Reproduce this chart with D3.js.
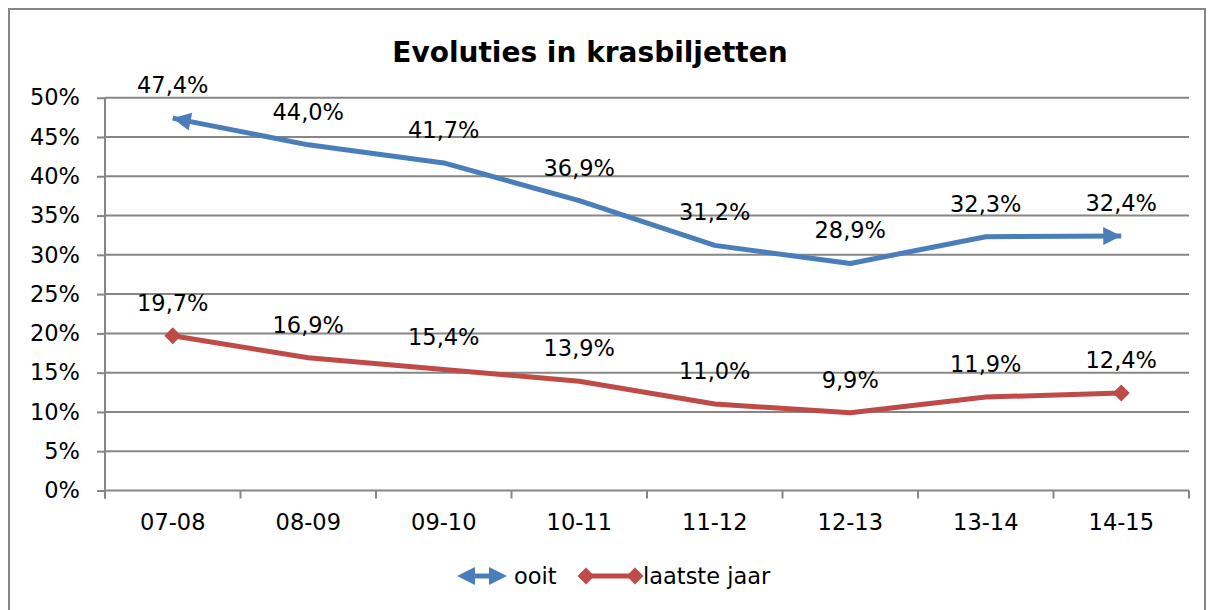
<!DOCTYPE html>
<html><head><meta charset="utf-8">
<script src="https://cdn.jsdelivr.net/npm/d3@7"></script>
<style>body{margin:0;background:#fff}svg text{font-family:"DejaVu Sans",Verdana,sans-serif}</style>
</head><body>
<svg id="c" width="1214" height="610"></svg>
<script>
const categories = ["07-08","08-09","09-10","10-11","11-12","12-13","13-14","14-15"];
const ooit = [47.4,44.0,41.7,36.9,31.2,28.9,32.3,32.4];
const laatsteJaar = [19.7,16.9,15.4,13.9,11.0,9.9,11.9,12.4];
const yTicks = [0,5,10,15,20,25,30,35,40,45,50];
const seriesNames = ["ooit","laatste jaar"];
const title = "Evoluties in krasbiljetten";

const blue = "#4A7EBB", red = "#BE4B48", grid = "#868686";
const FS = 22.5;
const svg = d3.select("#c");
const L = 105, R = 1189, T = 97.7, B = 490.5;

svg.append("rect").attr("x",9).attr("y",9).attr("width",1196).attr("height",640)
  .attr("fill","#fff").attr("stroke",grid).attr("stroke-width",2);

const x = d3.scaleBand().domain(categories).range([L,R]);
const y = d3.scaleLinear().domain([0,50]).range([B,T]);
const cx = i => x(categories[i]) + x.bandwidth()/2;

svg.append("text").attr("x",590).attr("y",62).attr("text-anchor","middle")
  .attr("font-size",28).attr("font-weight","bold").text(title);

// gridlines
svg.append("g").selectAll("line").data(yTicks.filter(d=>d>0)).join("line")
  .attr("x1",L).attr("x2",R).attr("y1",d=>y(d)).attr("y2",d=>y(d))
  .attr("stroke",grid).attr("stroke-width",2);

// y axis
const ya = svg.append("g").attr("transform",`translate(${L},0)`)
  .call(d3.axisLeft(y).tickValues(yTicks).tickFormat(d=>d+"%").tickSize(8).tickPadding(17));
ya.select(".domain").attr("stroke",grid).attr("stroke-width",2).attr("d",`M0,${B+8}V${T}`);
ya.selectAll(".tick line").attr("stroke",grid).attr("stroke-width",2);
ya.selectAll(".tick text").attr("font-size",FS).attr("fill","#000");

// x axis
const xa = svg.append("g").attr("transform",`translate(0,${B})`)
  .call(d3.axisBottom(x).tickSize(0).tickPadding(24));
xa.select(".domain").attr("stroke",grid).attr("stroke-width",2).attr("d",`M${L},0H${R}`);
xa.selectAll(".tick text").attr("font-size",FS).attr("fill","#000");
svg.append("g").selectAll("line").data(d3.range(categories.length+1)).join("line")
  .attr("x1",i=>L+i*x.step()).attr("x2",i=>L+i*x.step()).attr("y1",B).attr("y2",B+8)
  .attr("stroke",grid).attr("stroke-width",2);

// arrowhead helper: tip at (tx,ty), pointing away from (fx,fy)
function arrowHead(g, tx, ty, fx, fy, color){
  const a = Math.atan2(ty-fy, tx-fx), len = 18, hw = 9;
  const bx = tx - len*Math.cos(a), by = ty - len*Math.sin(a);
  const px = -Math.sin(a)*hw, py = Math.cos(a)*hw;
  g.append("path").attr("d",`M${tx},${ty}L${bx+px},${by+py}L${bx-px},${by-py}Z`).attr("fill",color);
}
function diamond(g, px, py, color){
  const s = 8.5;
  g.append("path").attr("d",`M${px},${py-s}L${px+s},${py}L${px},${py+s}L${px-s},${py}Z`).attr("fill",color);
}

const line = d3.line().x((d,i)=>cx(i)).y(d=>y(d));
// blue line, trimmed so the heads cover the ends
const gb = svg.append("g");
gb.append("path").datum(ooit).attr("d",line).attr("fill","none").attr("stroke",blue)
  .attr("stroke-width",5).attr("stroke-linejoin","round");
const n = ooit.length-1;
arrowHead(gb, cx(0), y(ooit[0]), cx(1), y(ooit[1]), blue);
arrowHead(gb, cx(n), y(ooit[n]), cx(n-1), y(ooit[n-1]), blue);
const gr = svg.append("g");
gr.append("path").datum(laatsteJaar).attr("d",line).attr("fill","none").attr("stroke",red)
  .attr("stroke-width",5).attr("stroke-linejoin","round");
diamond(gr, cx(0), y(laatsteJaar[0]), red);
diamond(gr, cx(n), y(laatsteJaar[n]), red);

// data labels
[ooit,laatsteJaar].forEach(s=>{
  svg.append("g").selectAll("text").data(s).join("text")
    .attr("x",(d,i)=>cx(i))
    .attr("y",d=>y(d)-25).attr("text-anchor","middle").attr("font-size",FS)
    .text(d=>d.toFixed(1).replace(".",",")+"%");
});

// legend
const ly = 576;
const lg = svg.append("g");
lg.append("line").attr("x1",470).attr("x2",495).attr("y1",ly).attr("y2",ly)
  .attr("stroke",blue).attr("stroke-width",5);
arrowHead(lg, 457, ly, 480, ly, blue);
arrowHead(lg, 507, ly, 480, ly, blue);
lg.append("text").attr("x",514).attr("y",ly+8).attr("font-size",FS).text(seriesNames[0]);
lg.append("line").attr("x1",585).attr("x2",636).attr("y1",ly).attr("y2",ly)
  .attr("stroke",red).attr("stroke-width",5);
diamond(lg, 586, ly, red);
diamond(lg, 635, ly, red);
lg.append("text").attr("x",643).attr("y",ly+8).attr("font-size",FS).text(seriesNames[1]);
</script>
</body></html>
